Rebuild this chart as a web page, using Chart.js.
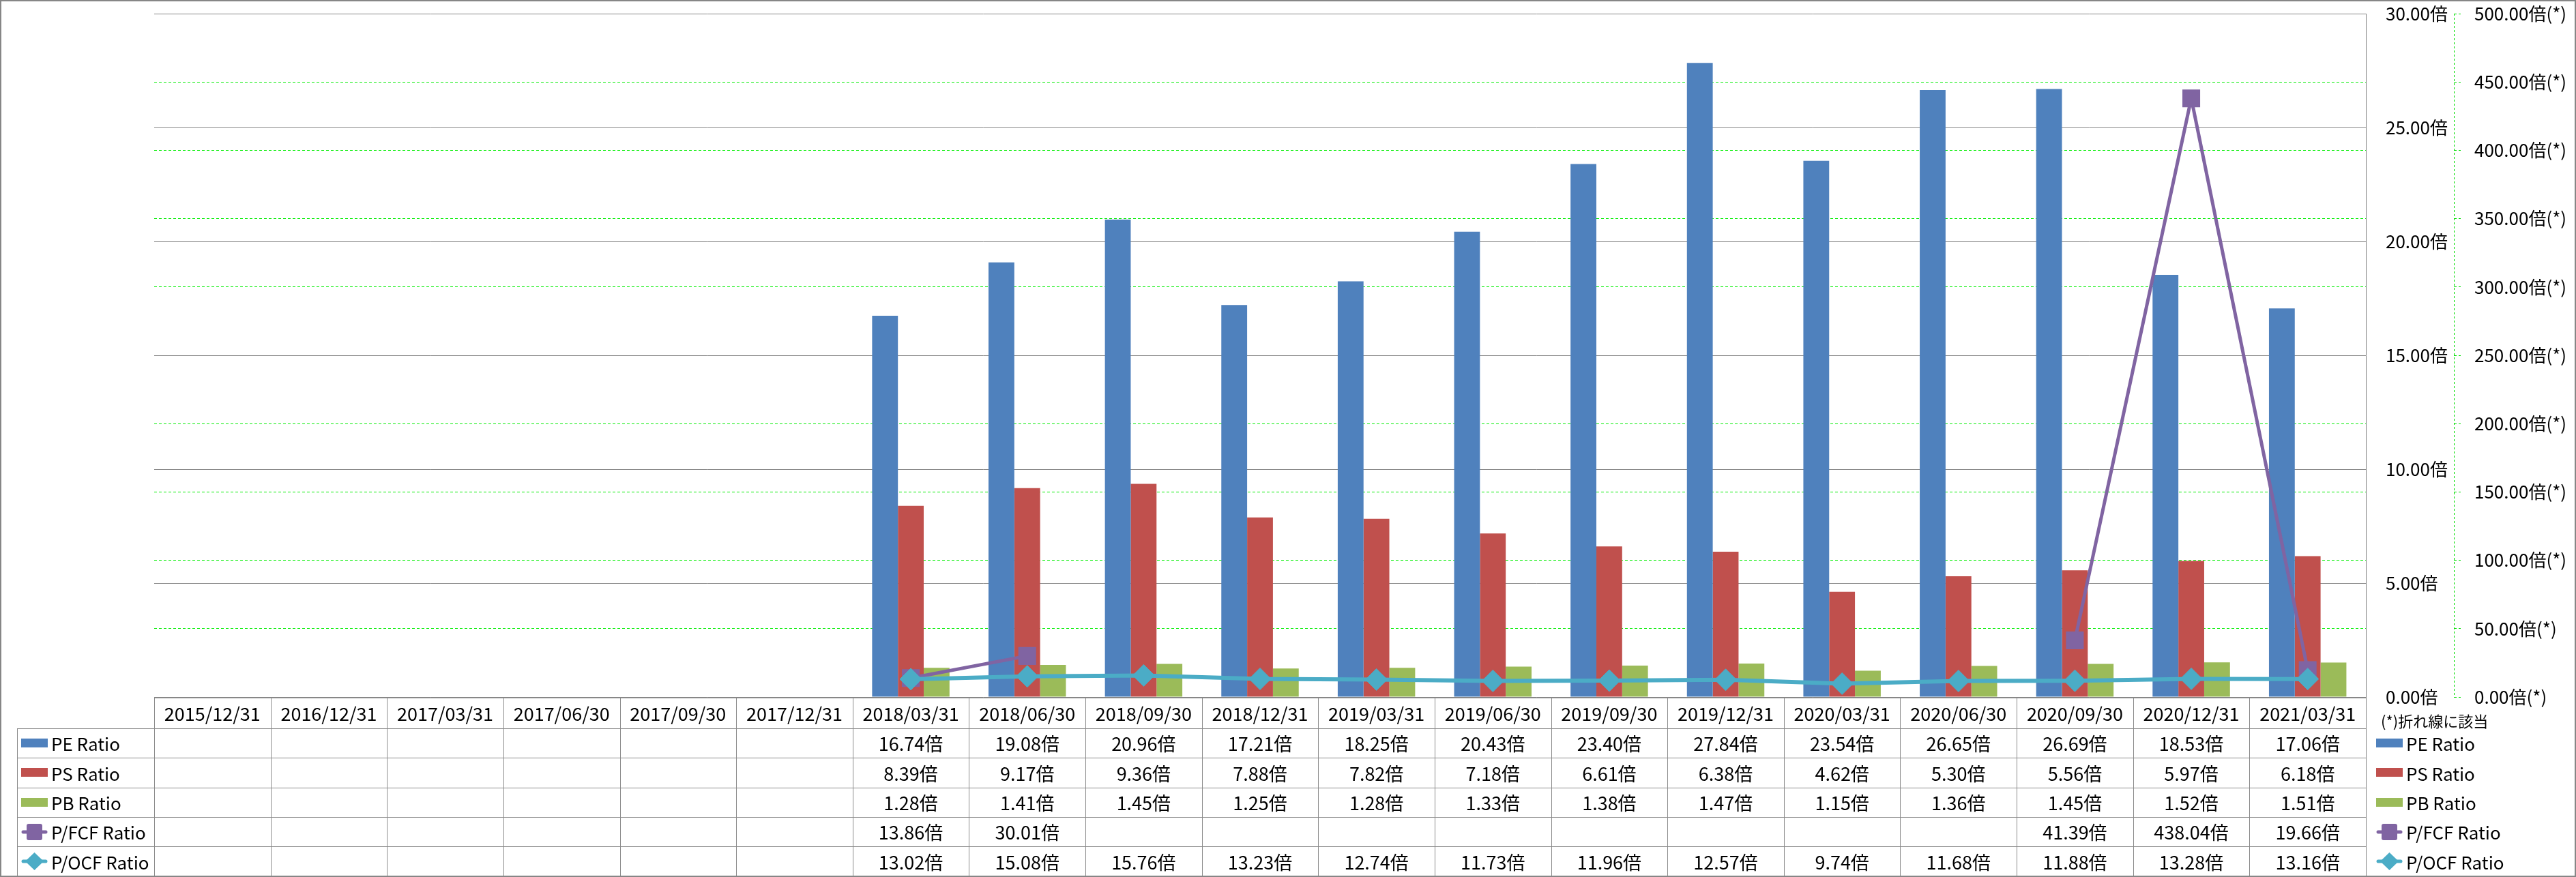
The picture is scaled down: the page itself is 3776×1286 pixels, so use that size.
<!DOCTYPE html>
<html>
<head>
<meta charset="utf-8">
<script src="https://cdn.jsdelivr.net/npm/chart.js@4.4.0/dist/chart.umd.min.js"></script>
<style>
  body { margin: 0; background: #fff; }
  #wrap {
    position: relative; width: 3776px; height: 1286px; overflow: hidden;
    font-family: "Noto Sans CJK JP", "Noto Sans", sans-serif; color: #000;
  }
  #chart { position: absolute; left: 0; top: 0; }
  #frame {
    position: absolute; left: 0; top: 0; width: 3772px; height: 1282px;
    border: 2px solid #868686; pointer-events: none;
  }
  .hl, .vl { position: absolute; background: #8a8a8a; }
  .cell {
    position: absolute; display: flex; align-items: center; justify-content: center;
    font-size: 27px; white-space: nowrap;
  }
  .legend {
    position: absolute; display: flex; align-items: center;
    font-size: 26px; white-space: nowrap;
  }
  .legend .key { width: 39px; height: 30px; margin-right: 5px; display: flex; align-items: center; }
  #note { position: absolute; left: 3490px; top: 1040px; font-size: 22px; white-space: nowrap; }
</style>
</head>
<body>
<div id="wrap">
  <canvas id="chart" width="3776" height="1286"></canvas>
  <div id="table"></div>
  <div id="note">(*)折れ線に該当</div>
  <div id="frame"></div>
</div>
<script>
// categories (table header) and series values
const categories = [
  '2015/12/31', '2016/12/31', '2017/03/31', '2017/06/30', '2017/09/30', '2017/12/31',
  '2018/03/31', '2018/06/30', '2018/09/30', '2018/12/31', '2019/03/31', '2019/06/30',
  '2019/09/30', '2019/12/31', '2020/03/31', '2020/06/30', '2020/09/30', '2020/12/31', '2021/03/31'
];
const peRatio   = [null, null, null, null, null, null, 16.74, 19.08, 20.96, 17.21, 18.25, 20.43, 23.40, 27.84, 23.54, 26.65, 26.69, 18.53, 17.06];
const psRatio   = [null, null, null, null, null, null, 8.39, 9.17, 9.36, 7.88, 7.82, 7.18, 6.61, 6.38, 4.62, 5.30, 5.56, 5.97, 6.18];
const pbRatio   = [null, null, null, null, null, null, 1.28, 1.41, 1.45, 1.25, 1.28, 1.33, 1.38, 1.47, 1.15, 1.36, 1.45, 1.52, 1.51];
const pfcfRatio = [null, null, null, null, null, null, 13.86, 30.01, null, null, null, null, null, null, null, null, 41.39, 438.04, 19.66];
const pocfRatio = [null, null, null, null, null, null, 13.02, 15.08, 15.76, 13.23, 12.74, 11.73, 11.96, 12.57, 9.74, 11.68, 11.88, 13.28, 13.16];

// axis ranges / tick steps
const barAxisMax = 30, barAxisStep = 5;
const lineAxisMax = 500, lineAxisStep = 50;

const colors = {
  pe: '#4F81BD', ps: '#C0504D', pb: '#9BBB59', pfcf: '#8064A2', pocf: '#4BACC6'
};

Chart.defaults.font.family = '"Noto Sans CJK JP", "Noto Sans", sans-serif';
Chart.defaults.color = '#000';

// the outer right axis has a dashed green axis line in the original
const dashedAxisLine = {
  id: 'dashedAxisLine',
  afterDraw(chart) {
    const s = chart.scales.y2;
    const ctx = chart.ctx;
    ctx.save();
    ctx.strokeStyle = '#00dd00';
    ctx.lineWidth = 1;
    ctx.setLineDash([3, 3]);
    ctx.beginPath();
    ctx.moveTo(Math.round(s.left) + 0.5, s.top);
    ctx.lineTo(Math.round(s.left) + 0.5, s.bottom);
    ctx.stroke();
    ctx.restore();
  }
};

// fixed axis widths; labels may hang over the plot's top/bottom edge like in Excel
function fitAxis(width) {
  return s => {
    s.width = width;
    s.paddingTop = 0;
    s.paddingBottom = 0;
  };
}

const chart = new Chart(document.getElementById('chart'), {
  type: 'bar',
  data: {
    labels: categories,
    datasets: [
      { type: 'line', label: 'P/OCF Ratio', data: pocfRatio, yAxisID: 'y2', order: 0,
        borderColor: colors.pocf, backgroundColor: colors.pocf, borderWidth: 6,
        pointStyle: 'rectRot', pointRadius: 16, pointBorderWidth: 1, tension: 0 },
      { type: 'line', label: 'P/FCF Ratio', data: pfcfRatio, yAxisID: 'y2', order: 1,
        borderColor: colors.pfcf, backgroundColor: colors.pfcf, borderWidth: 5,
        pointStyle: 'rect', pointRadius: 17, pointBorderWidth: 2, tension: 0, spanGaps: false },
      { label: 'PE Ratio', data: peRatio, backgroundColor: colors.pe, yAxisID: 'y', order: 2 },
      { label: 'PS Ratio', data: psRatio, backgroundColor: colors.ps, yAxisID: 'y', order: 2 },
      { label: 'PB Ratio', data: pbRatio, backgroundColor: colors.pb, yAxisID: 'y', order: 2 }
    ]
  },
  options: {
    responsive: false,
    animation: false,
    datasets: { bar: { categoryPercentage: 0.665, barPercentage: 1 } },
    layout: { padding: { left: 226, top: 20, right: 0, bottom: 264 } },
    plugins: { legend: { display: false }, tooltip: { enabled: false } },
    scales: {
      x: { display: false, offset: true },
      y: {
        position: 'right', min: 0, max: barAxisMax,
        ticks: { stepSize: barAxisStep, padding: 29, font: { size: 26 },
          callback: v => v.toFixed(2) + '倍' },
        grid: { color: '#868686', lineWidth: 1, drawTicks: false },
        border: { display: true, color: '#868686', width: 1 },
        afterFit: fitAxis(129)
      },
      y2: {
        position: 'right', min: 0, max: lineAxisMax,
        ticks: { stepSize: lineAxisStep, padding: 20, font: { size: 26 },
          callback: v => v.toFixed(2) + '倍(*)' },
        grid: {
          color: c => (c.tick && c.tick.value % 250 === 0) ? 'rgba(0,0,0,0)' : '#00ee00',
          lineWidth: 1, tickColor: '#00dd00', tickLength: 10, tickBorderDash: [4, 3]
        },
        border: { display: false, dash: [4, 3] },
        afterFit: fitAxis(179)
      }
    }
  },
  plugins: [dashedAxisLine]
});

// data table under the plot
const table = document.getElementById('table');
const colX0 = 226, colX1 = 3468;
const colW = (colX1 - colX0) / categories.length;
const rowTops = [1023, 1068, 1111, 1155, 1198, 1241, 1285];

function add(cls, styles, html) {
  const d = document.createElement('div');
  d.className = cls;
  Object.assign(d.style, styles);
  if (html !== undefined) d.innerHTML = html;
  table.appendChild(d);
  return d;
}

// lines
add('hl', { left: colX0 + 'px', top: rowTops[0] + 'px', width: (colX1 - colX0 + 1) + 'px', height: '1px' });
for (let r = 1; r < rowTops.length; r++) {
  add('hl', { left: '25px', top: rowTops[r] + 'px', width: (colX1 - 25 + 1) + 'px', height: '1px' });
}
add('vl', { left: '25px', top: rowTops[1] + 'px', width: '1px', height: (rowTops[6] - rowTops[1]) + 'px' });
for (let c = 0; c <= categories.length; c++) {
  add('vl', { left: Math.round(colX0 + c * colW) + 'px', top: rowTops[0] + 'px', width: '1px', height: (rowTops[6] - rowTops[0]) + 'px' });
}

// header
categories.forEach((cat, c) => {
  add('cell', { left: (colX0 + c * colW) + 'px', top: rowTops[0] + 'px', width: colW + 'px', height: (rowTops[1] - rowTops[0]) + 'px' }, cat);
});

function keySvg(kind, color) {
  if (kind === 'bar') {
    return `<svg width="39" height="30"><rect x="0" y="8" width="39" height="13" fill="${color}"/></svg>`;
  }
  const line = `<line x1="3" y1="15" x2="36" y2="15" stroke="${color}" stroke-width="5" stroke-linecap="round"/>`;
  if (kind === 'square') {
    return `<svg width="39" height="30">${line}<rect x="8" y="3" width="23" height="24" rx="3" fill="${color}"/></svg>`;
  }
  return `<svg width="39" height="30">${line}<polygon points="19.5,2 33,15 19.5,28 6,15" fill="${color}"/></svg>`;
}

const rows = [
  { name: 'PE Ratio', values: peRatio, kind: 'bar', color: colors.pe },
  { name: 'PS Ratio', values: psRatio, kind: 'bar', color: colors.ps },
  { name: 'PB Ratio', values: pbRatio, kind: 'bar', color: colors.pb },
  { name: 'P/FCF Ratio', values: pfcfRatio, kind: 'square', color: colors.pfcf },
  { name: 'P/OCF Ratio', values: pocfRatio, kind: 'diamond', color: colors.pocf }
];

rows.forEach((row, i) => {
  const top = rowTops[i + 1], h = rowTops[i + 2] - rowTops[i + 1];
  const legendHtml = `<span class="key">${keySvg(row.kind, row.color)}</span>${row.name}`;
  add('legend', { left: '31px', top: top + 'px', height: h + 'px' }, legendHtml);
  add('legend', { left: '3483px', top: top + 'px', height: h + 'px' }, legendHtml);
  row.values.forEach((v, c) => {
    if (v === null) return;
    add('cell', { left: (colX0 + c * colW) + 'px', top: top + 'px', width: colW + 'px', height: h + 'px' }, v.toFixed(2) + '倍');
  });
});
</script>
</body>
</html>
